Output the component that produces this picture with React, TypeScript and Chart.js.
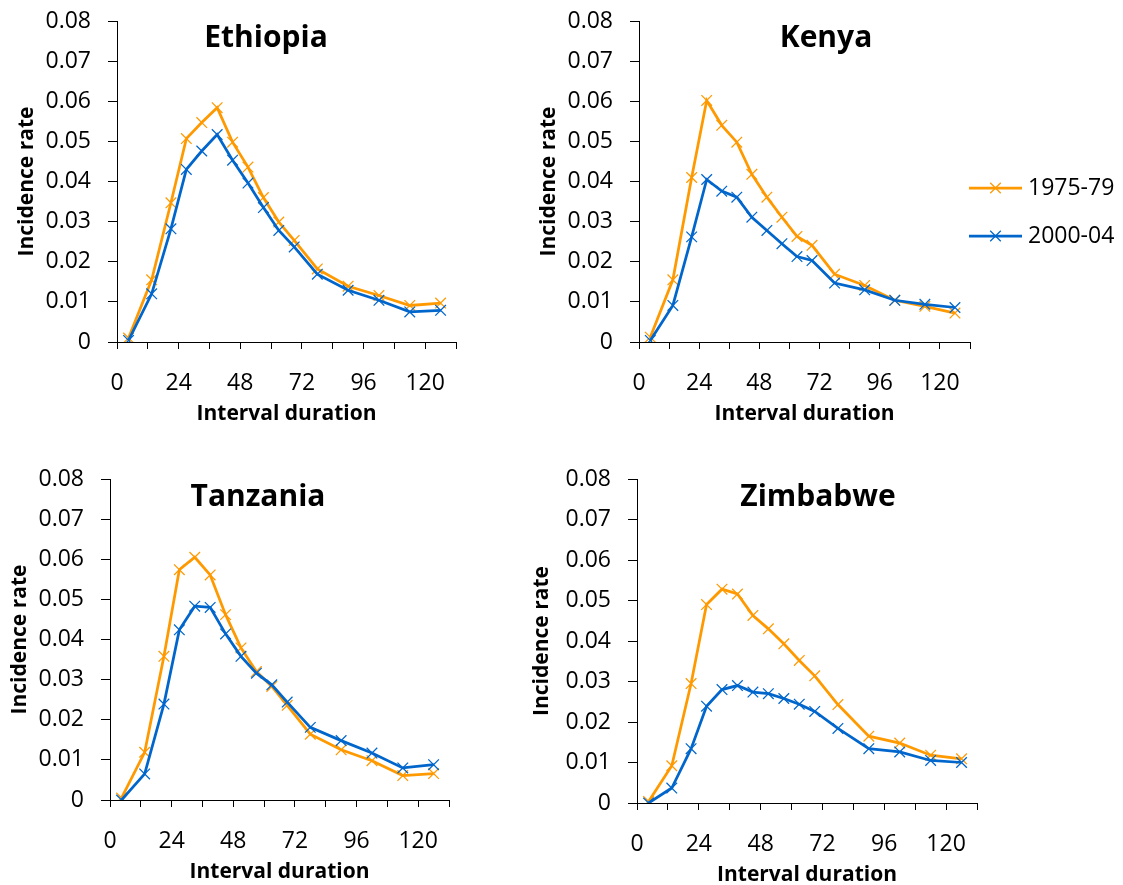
import React, { useEffect, useRef } from "react";
import { Chart, registerables } from "chart.js";

Chart.register(...registerables);

// ---------- data ----------
const intervalMidpoints = [4.5, 13.5, 21, 27, 33, 39, 45, 51, 57, 63, 69, 78, 90, 102, 114, 126];
const seriesNames = ["1975-79", "2000-04"];
const xTickLabels = [0, 24, 48, 72, 96, 120];

const ethiopia1975 = [0.001, 0.0155, 0.0347, 0.0507, 0.0547, 0.0584, 0.0498, 0.0436, 0.036, 0.0299, 0.0253, 0.0182, 0.0139, 0.0116, 0.0091, 0.0097];
const ethiopia2000 = [0.0004, 0.012, 0.0282, 0.043, 0.0476, 0.0517, 0.0453, 0.0396, 0.0335, 0.0278, 0.0237, 0.0169, 0.0129, 0.0104, 0.0075, 0.0079];

const kenya1975 = [0.0012, 0.0155, 0.041, 0.0602, 0.054, 0.0498, 0.0418, 0.0361, 0.0311, 0.0263, 0.0241, 0.0169, 0.0141, 0.0104, 0.0089, 0.0072];
const kenya2000 = [0.0004, 0.0091, 0.0262, 0.0405, 0.0376, 0.0361, 0.0311, 0.0278, 0.0245, 0.0213, 0.0203, 0.0147, 0.013, 0.0104, 0.0094, 0.0086];

const tanzania1975 = [0.0005, 0.0119, 0.0358, 0.0574, 0.0605, 0.0561, 0.0462, 0.0379, 0.032, 0.0283, 0.0236, 0.0164, 0.0125, 0.0098, 0.0061, 0.0066];
const tanzania2000 = [0.0, 0.0065, 0.0239, 0.0424, 0.0483, 0.048, 0.0414, 0.0358, 0.0316, 0.0287, 0.0244, 0.0181, 0.0148, 0.0117, 0.008, 0.0088];

const zimbabwe1975 = [0.0004, 0.0092, 0.0295, 0.049, 0.0528, 0.0516, 0.0463, 0.043, 0.0393, 0.0352, 0.0314, 0.0243, 0.0165, 0.0148, 0.0118, 0.0109];
const zimbabwe2000 = [0.0, 0.0037, 0.0134, 0.0239, 0.028, 0.029, 0.0274, 0.027, 0.0258, 0.0244, 0.0226, 0.0184, 0.0134, 0.0126, 0.0105, 0.01];

// ---------- styling / layout ----------
const COLORS = ["#FF9900", "#0066CC"];
const FONT = '"Open Sans", "DejaVu Sans", sans-serif';
const TICK_SIZE = 23;
const AXIS_TITLE_SIZE = 21;
const Y_W = 110;
const PAD_T = 34;
const X_H = 90;

type Area = { l: number; t: number; r: number; b: number };
type PanelDef = {
  name: string;
  s1: number[];
  s2: number[];
  area: Area;
  titleX: number;
  titleBase: number;
  yTitleX: number;
  legend?: boolean;
};

const panels: PanelDef[] = [
  { name: "Ethiopia", s1: ethiopia1975, s2: ethiopia2000, area: { l: 117, t: 21, r: 456, b: 342 }, titleX: 266, titleBase: 47, yTitleX: 27 },
  { name: "Kenya", s1: kenya1975, s2: kenya2000, area: { l: 639, t: 21, r: 970, b: 342 }, titleX: 826, titleBase: 47, yTitleX: 549, legend: true },
  { name: "Tanzania", s1: tanzania1975, s2: tanzania2000, area: { l: 110, t: 479, r: 449, b: 800 }, titleX: 258, titleBase: 506, yTitleX: 20 },
  { name: "Zimbabwe", s1: zimbabwe1975, s2: zimbabwe2000, area: { l: 637, t: 479, r: 977, b: 803 }, titleX: 818, titleBase: 506, yTitleX: 542 },
];

function Panel({ p }: { p: PanelDef }) {
  const ref = useRef<HTMLCanvasElement>(null);
  const padR = p.legend ? 1123 - p.area.r : 26;
  const canvasLeft = p.area.l - Y_W;
  const canvasTop = p.area.t - PAD_T;
  const width = Y_W + (p.area.r - p.area.l) + padR;
  const height = PAD_T + (p.area.b - p.area.t) + X_H;
  const yTitlePad = p.yTitleX - canvasLeft - (AXIS_TITLE_SIZE * 1.2) / 2;
  const xTitlePad = X_H - 72 - (AXIS_TITLE_SIZE * 1.2) / 2;

  useEffect(() => {
    if (!ref.current) return;
    const mk = (vals: number[], i: number) => ({
      label: seriesNames[i],
      data: intervalMidpoints.map((x, k) => ({ x, y: vals[k] })),
      borderColor: COLORS[i],
      backgroundColor: COLORS[i],
      pointBorderColor: COLORS[i],
      borderWidth: 2.75,
      pointStyle: "crossRot",
      pointRadius: 7.5,
      pointHoverRadius: 7.5,
      pointBorderWidth: 1.25,
      showLine: true,
      tension: 0,
      order: i === 1 ? 0 : 1,
    });

    const titlePlugin = {
      id: "panelTitle",
      afterDraw(chart: any) {
        const ctx = chart.ctx;
        ctx.save();
        ctx.font = `bold 30px ${FONT}`;
        ctx.fillStyle = "#000";
        ctx.textAlign = "center";
        ctx.textBaseline = "alphabetic";
        ctx.fillText(p.name, p.titleX - canvasLeft, p.titleBase - canvasTop);
        if (p.legend) {
          const rows = [188, 236];
          chart.data.datasets.forEach((ds: any, i: number) => {
            const y = rows[i] - canvasTop;
            const x0 = 969 - canvasLeft;
            const x1 = 1022 - canvasLeft;
            ctx.strokeStyle = ds.borderColor;
            ctx.lineWidth = 2.75;
            ctx.beginPath();
            ctx.moveTo(x0, y);
            ctx.lineTo(x1, y);
            ctx.stroke();
            const cx = (x0 + x1) / 2;
            const d = 7.5 * Math.SQRT1_2;
            ctx.lineWidth = 1.25;
            ctx.beginPath();
            ctx.moveTo(cx - d, y - d);
            ctx.lineTo(cx + d, y + d);
            ctx.moveTo(cx + d, y - d);
            ctx.lineTo(cx - d, y + d);
            ctx.stroke();
            ctx.fillStyle = "#000";
            ctx.font = `${TICK_SIZE}px ${FONT}`;
            ctx.textAlign = "left";
            ctx.textBaseline = "middle";
            ctx.fillText(ds.label, 1028 - canvasLeft, y);
          });
        }
        ctx.restore();
      },
    };

    const chart = new Chart(ref.current, {
      type: "scatter",
      data: { datasets: [mk(p.s1, 0), mk(p.s2, 1)] as any },
      options: {
        responsive: false,
        animation: false,
        devicePixelRatio: 1,
        events: [],
        layout: { padding: { left: 0, top: PAD_T, right: padR, bottom: 0 } },
        plugins: { legend: { display: false }, tooltip: { enabled: false }, title: { display: false } },
        scales: {
          x: {
            type: "linear",
            min: 0,
            max: 132,
            afterFit: (s: any) => {
              s.height = X_H;
            },
            ticks: {
              stepSize: 12,
              autoSkip: false,
              maxRotation: 0,
              padding: 21,
              color: "#000",
              font: { size: TICK_SIZE, family: FONT },
              callback: (v: any) => (xTickLabels.includes(Number(v)) ? String(v) : ""),
            },
            grid: { drawOnChartArea: false, drawTicks: true, tickLength: 7, color: "#000", lineWidth: 1 },
            border: { display: true, color: "#000", width: 1 },
            title: {
              display: true,
              text: "Interval duration",
              color: "#000",
              font: { size: AXIS_TITLE_SIZE, weight: "bold", family: FONT },
              padding: { top: 0, bottom: xTitlePad },
            },
          },
          y: {
            type: "linear",
            min: 0,
            max: 0.08,
            afterFit: (s: any) => {
              s.width = Y_W;
            },
            ticks: {
              stepSize: 0.01,
              padding: 17,
              color: "#000",
              font: { size: TICK_SIZE, family: FONT },
              callback: (v: any) => String(Number(Number(v).toFixed(2))),
            },
            grid: { drawOnChartArea: false, drawTicks: true, tickLength: 9, color: "#000", lineWidth: 1 },
            border: { display: true, color: "#000", width: 1 },
            title: {
              display: true,
              text: "Incidence rate",
              color: "#000",
              font: { size: AXIS_TITLE_SIZE, weight: "bold", family: FONT },
              padding: { top: yTitlePad, bottom: 0 },
            },
          },
        },
      } as any,
      plugins: [titlePlugin],
    });
    return () => chart.destroy();
  }, []);

  return (
    <canvas
      ref={ref}
      width={width}
      height={height}
      style={{ position: "absolute", left: canvasLeft, top: canvasTop, width, height }}
    />
  );
}

export default function App() {
  return (
    <div
      style={{
        position: "absolute",
        left: 0,
        top: 0,
        width: 1123,
        height: 885,
        overflow: "hidden",
        background: "#fff",
      }}
    >
      {panels.map((p) => (
        <Panel key={p.name} p={p} />
      ))}
    </div>
  );
}
